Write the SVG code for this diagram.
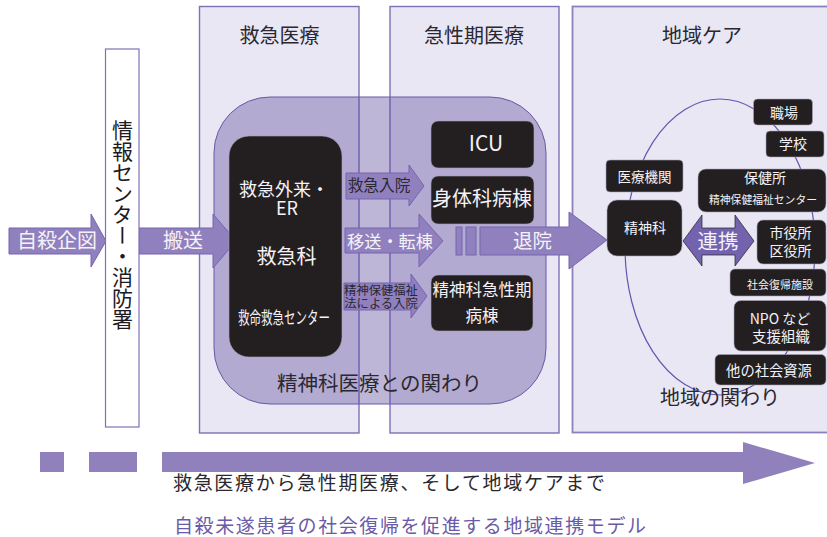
<svg xmlns="http://www.w3.org/2000/svg" width="827" height="537" viewBox="0 0 827 537">
<style>
text{font-family:"Noto Sans CJK JP","Liberation Sans",sans-serif;text-anchor:middle}
.panel{fill:#e9e7f4;stroke:#7f70b8;stroke-width:1.4}
.edge{stroke:#7f70b8;stroke-width:1.4;fill:none}
.dark{fill:#231f20;stroke:#a9a3b5;stroke-width:.6}
.w{fill:#f4f2f7}
.k{fill:#2b2830}
.arrow{fill:#9080bd;stroke:#7564b0;stroke-width:1}
.flat{fill:#9080bb}
</style>
<g id="panels">
<rect class="panel" x="199.5" y="6.5" width="159.500" height="426.500"/>
<rect class="panel" x="390" y="6.500" width="169" height="426.500"/>
<rect class="panel" x="572.500" y="6.500" width="262" height="426" style="stroke-width:1.800;stroke:#8d80bd"/>
</g>
<g id="psychiatric-area">
<rect x="214" y="97" width="332" height="307" rx="56" fill="#7d6db0" fill-opacity=".5" stroke="#6a58a8" stroke-width="1"/>
<path class="edge" d="M359 97V404M390 97V404"/>
</g>
<text x="279.500" y="43" font-size="20" class="k">救急医療</text>
<text x="474" y="43" font-size="20" class="k">急性期医療</text>
<text x="702" y="43" font-size="20" class="k">地域ケア</text>
<text x="379.500" y="391" font-size="20.500" class="k">精神科医療との関わり</text>
<g id="connectors">
<ellipse cx="720" cy="247" rx="95" ry="148" fill="none" stroke="#6555ad" stroke-width="1.200"/>
<path class="arrow" d="M9 228H91V214L106 241L91 267V254H9Z"/>
<path class="arrow" d="M139 228H213V214L236 241L213 268V254H139Z"/>
<path class="arrow" d="M346 173H409V165L424 186L409 206V199H346Z"/>
<path class="arrow" d="M345 228H419V214L443 241L419 267V253H345Z"/>
<path class="arrow" d="M344 283H411V274L427 296L411 318V310H344Z"/>
<rect class="arrow" x="456" y="227" width="6" height="28"/>
<rect class="arrow" x="466" y="227" width="10" height="28"/>
<path class="arrow" d="M480 227H569V212L607 240L569 269V255H480Z"/>
<path d="M683 241L702 215V228H735V215L754 241L735 266V255H702V266Z" fill="#7363ae" stroke="#231f20" stroke-width=".7"/>
</g>
<g id="arrow-labels">
<text x="57" y="248" font-size="20" class="w">自殺企図</text>
<text x="183" y="248" font-size="20" class="w">搬送</text>
<text x="379" y="191" font-size="15.700" class="k">救急入院</text>
<text x="390" y="248" font-size="17.200" class="w">移送・転棟</text>
<text x="381" y="295" font-size="12.300" class="k">精神保健福祉</text>
<text x="381" y="308" font-size="12.300" class="k">法による入院</text>
<text x="532.500" y="248" font-size="19.500" class="w">退院</text>
<text x="718" y="249" font-size="20.500" class="w">連携</text>
</g>
<g id="info-center">
<rect x="105.500" y="49" width="33.500" height="378" fill="#fff" stroke="#7f70b8" stroke-width="1.200"/>
<text x="122.500" y="120" font-size="21" fill="#1c1a20" style="writing-mode:vertical-rl;text-anchor:start">情報センター・消防署</text>
</g>
<g id="er">
<rect class="dark" x="229" y="136" width="113" height="221" rx="20"/>
<text x="284" y="196" font-size="18" class="w">救急外来・</text>
<text x="287" y="215" font-size="18" class="w">ER</text>
<text x="286.500" y="264" font-size="20" class="w">救急科</text>
<text x="284" y="324" font-size="17" class="w" textLength="92" lengthAdjust="spacingAndGlyphs">救命救急センター</text>
</g>
<g id="icu"><rect class="dark" x="431" y="121" width="103" height="47" rx="7"/><text x="486" y="151" font-size="21" class="w">ICU</text></g>
<g id="ward"><rect class="dark" x="431" y="176" width="103" height="48" rx="7"/><text x="482" y="206" font-size="20" class="w">身体科病棟</text></g>
<g id="psy-ward"><rect class="dark" x="431" y="275" width="102" height="56" rx="7"/><text x="482" y="296" font-size="16.500" class="w">精神科急性期</text><text x="482" y="322" font-size="16.500" class="w">病棟</text></g>
<g id="medical"><rect class="dark" x="606" y="160" width="77" height="32" rx="4"/><text x="644.500" y="182" font-size="13.500" class="w">医療機関</text></g>
<g id="psy"><rect class="dark" x="607" y="200" width="75" height="56" rx="10"/><text x="645" y="233" font-size="14" class="w">精神科</text></g>
<g id="workplace"><rect class="dark" x="753.500" y="99" width="59" height="26" rx="4"/><text x="784" y="118" font-size="14" class="w">職場</text></g>
<g id="school"><rect class="dark" x="766" y="131" width="58" height="26" rx="4"/><text x="793" y="149" font-size="14" class="w">学校</text></g>
<g id="health"><rect class="dark" x="698" y="169" width="128" height="43" rx="8"/><text x="765" y="183" font-size="14" class="w">保健所</text><text x="763" y="204" font-size="10.800" class="w">精神保健福祉センター</text></g>
<g id="city"><rect class="dark" x="757" y="220" width="69" height="44" rx="6"/><text x="790.500" y="238" font-size="14" class="w">市役所</text><text x="790.500" y="256" font-size="14" class="w">区役所</text></g>
<g id="rehab"><rect class="dark" x="730" y="269" width="96" height="27" rx="5"/><text x="780" y="289" font-size="11" class="w">社会復帰施設</text></g>
<g id="npo"><rect class="dark" x="734" y="300.500" width="92" height="50.500" rx="7"/><text x="780" y="324" font-size="14" class="w">NPO など</text><text x="781" y="342" font-size="14.500" class="w">支援組織</text></g>
<g id="other"><rect class="dark" x="715" y="354.500" width="111" height="30.500" rx="5"/><text x="769" y="376" font-size="14.300" class="w">他の社会資源</text></g>
<text x="720" y="405" font-size="20" class="k">地域の関わり</text>
<g id="timeline">
<rect class="flat" x="40" y="452" width="24" height="20"/>
<rect class="flat" x="89" y="452" width="48" height="20"/>
<path class="flat" d="M162 452H743V442L815 463L743 484V472H162Z"/>
</g>
<text x="173" y="490" font-size="19" fill="#2b2830" style="text-anchor:start" textLength="432">救急医療から急性期医療、そして地域ケアまで</text>
<text x="174" y="533" font-size="19" fill="#6b5aa8" style="text-anchor:start" textLength="472">自殺未遂患者の社会復帰を促進する地域連携モデル</text>
</svg>
